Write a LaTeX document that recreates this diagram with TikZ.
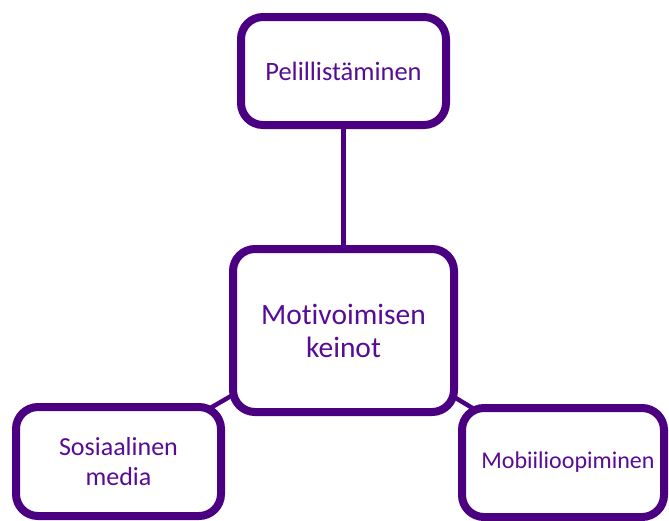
\documentclass[tikz,border=0pt]{standalone}
\usepackage{fontspec}
\setmainfont[Ligatures=NoCommon]{Carlito}
\usepackage{xcolor}
\usetikzlibrary{shapes.geometric, backgrounds, shadows}
\definecolor{framepurple}{RGB}{75,0,130}
\definecolor{textpurple}{RGB}{88,12,150}
\tikzstyle{topic} = [rectangle, rounded corners=22pt, line width=8pt, draw=framepurple, fill=white, text=textpurple, align=center, text centered, drop shadow={opacity=0.18, shadow xshift=0pt, shadow yshift=-3pt}]
\tikzstyle{link} = [line width=4.5pt, draw=framepurple]

\begin{document}
\begin{tikzpicture}[x=1pt, y=-1pt]
			\useasboundingbox (0,0) rectangle (669,520);
			\node (mid) [topic, minimum width=221pt, minimum height=163pt, font=\fontsize{29.5}{33}\selectfont] at (343.5,330.5) {Motivoimisen\\keinot};
			\node (game) [topic, minimum width=205pt, minimum height=108pt, font=\fontsize{26.5}{30}\selectfont] at (343.5,71) {Pelillistäminen};
			\node (some) [topic, minimum width=205pt, minimum height=109pt, font=\fontsize{26}{30}\selectfont] at (118.5,461.5) {Sosiaalinen\\media};
			\node (mobile) [topic, minimum width=202pt, minimum height=109pt, font=\fontsize{24}{29}\selectfont] at (563,462.5) {\hspace*{10pt}Mobiilioopiminen};

			\begin{scope}[on background layer]
			\draw [link] (mid.center) -- (game.center);
			\draw [link] (mid.center) -- (some.center);
			\draw [link] (mid.center) -- (mobile.center);
			\end{scope}
		\end{tikzpicture}
\end{document}
